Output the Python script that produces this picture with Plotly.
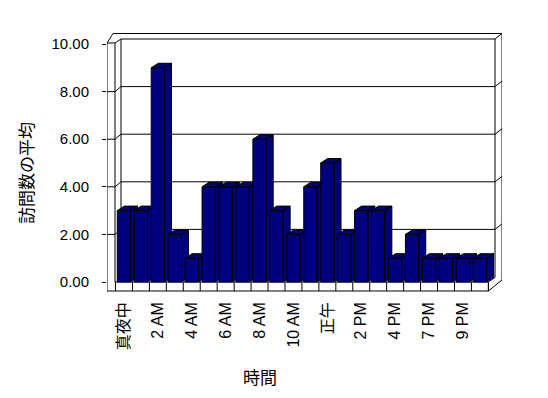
import plotly.graph_objects as go

# ---------------- data ----------------
categories = ["真夜中", "1 AM", "2 AM", "3 AM", "4 AM", "5 AM", "6 AM", "7 AM", "8 AM",
              "9 AM", "10 AM", "11 AM", "正午", "1 PM", "2 PM", "3 PM", "4 PM", "5 PM",
              "7 PM", "8 PM", "9 PM", "10 PM"]
values = [3, 3, 9, 2, 1, 4, 4, 4, 6, 3, 2, 4, 5, 2, 3, 3, 1, 2, 1, 1, 1, 1]
y_ticks = [0, 2, 4, 6, 8, 10]
x_title = "時間"
y_title = "訪問数の平均"

# ---------------- geometry helpers (pixel frame of the 3D box) ----------------
W, H = 548, 398
L, R, T, B = 107, 502, 33, 292          # plot area in pixels
PX_PER_CAT, CAT0_PX = 16.95, 123.95     # category spacing / first bar centre
PX_PER_UNIT, ZERO_PY = 23.8, 282        # value scale / baseline of front plane


def X(px):
    return (px - CAT0_PX) / PX_PER_CAT


def Y(py):
    return (ZERO_PY - py) / PX_PER_UNIT


def PX(px):
    return (px - L) / (R - L)


def PY(py):
    return (B - py) / (B - T)


NAVY = "#000080"
fig = go.Figure()

# frame / walls
segs = [
    [(107, 43), (107, 291)],
    [(107, 43), (115, 43), (115, 282)],
    [(115, 43), (121, 39), (495, 39), (502, 33.5)],
    [(107, 43), (113, 33.5), (502, 33.5), (502, 280)],
    [(121, 39), (121, 277)],
    [(495, 39), (495, 277.5), (488.4, 282)],
    [(107, 291), (488.4, 291), (502, 280)],
    [(115, 282), (488.4, 282), (488.4, 291)],
]
# gridlines (front-left wall -> back wall -> right wall)
for v in y_ticks[1:-1]:
    yf = ZERO_PY - v * PX_PER_UNIT
    yb = yf - 5
    segs.append([(107, yf), (115, yf), (121, yb), (495, yb), (502, yb - 5.5)])
# floor strip dividers at category boundaries
for k in range(len(categories) + 1):
    xpx = CAT0_PX + (k - 0.5) * PX_PER_CAT
    segs.append([(xpx, 282), (xpx, 291)])

fx, fy = [], []
for s in segs:
    for (a, b) in s:
        fx.append(X(a))
        fy.append(Y(b))
    fx.append(None)
    fy.append(None)
fig.add_trace(go.Scatter(x=fx, y=fy, mode="lines", line=dict(color="black", width=1),
                         hoverinfo="skip", showlegend=False))

# 3D bars
hw = 6.65 / PX_PER_CAT
ddx = 7 / PX_PER_CAT
ddy = 4.5 / PX_PER_UNIT
for i, v in enumerate(values):
    xl, xr = i - hw, i + hw
    side = [(xr, 0), (xr + ddx, ddy), (xr + ddx, v + ddy), (xr, v), (xr, 0)]
    top = [(xl, v), (xl + ddx, v + ddy), (xr + ddx, v + ddy), (xr, v), (xl, v)]
    front = [(xl, 0), (xr, 0), (xr, v), (xl, v), (xl, 0)]
    xs, ys = [], []
    for poly in (side, top, front):
        for (a, b) in poly:
            xs.append(a)
            ys.append(b)
        xs.append(None)
        ys.append(None)
    fig.add_trace(go.Scatter(x=xs, y=ys, mode="lines", fill="toself", fillcolor=NAVY,
                             line=dict(color="black", width=1), name=categories[i],
                             hoverinfo="skip", showlegend=False))

FONT = "Liberation Sans, Arial, Noto Sans CJK JP, sans-serif"

fig.update_layout(
    width=W, height=H,
    margin=dict(l=L, r=W - R, t=T, b=H - B),
    paper_bgcolor="white", plot_bgcolor="white",
    showlegend=False,
    font=dict(family=FONT, color="black"),
    xaxis=dict(range=[X(L), X(R)], showgrid=False, zeroline=False, showline=False,
               tickmode="array", tickvals=list(range(0, len(categories), 2)),
               ticktext=categories[::2], tickangle=-90, ticks="",
               tickfont=dict(size=16, family=FONT), ticklabelstandoff=6),
    yaxis=dict(range=[Y(B), Y(T)], showgrid=False, zeroline=False, showline=False,
               tickmode="array", tickvals=y_ticks, tickformat=".2f",
               ticks="outside", ticklen=4, tickcolor="black",
               tickfont=dict(size=15, family=FONT), ticklabelstandoff=10),
    annotations=[
        dict(text=y_title, xref="paper", yref="paper", x=PX(25), y=PY(173),
             textangle=-90, showarrow=False, xanchor="center", yanchor="middle",
             font=dict(size=17, family="Noto Sans CJK JP")),
        dict(text=x_title, xref="paper", yref="paper", x=PX(260), y=PY(376),
             showarrow=False, xanchor="center", yanchor="middle",
             font=dict(size=17, family="Noto Sans CJK JP")),
    ],
)

fig.write_html("out.html")
